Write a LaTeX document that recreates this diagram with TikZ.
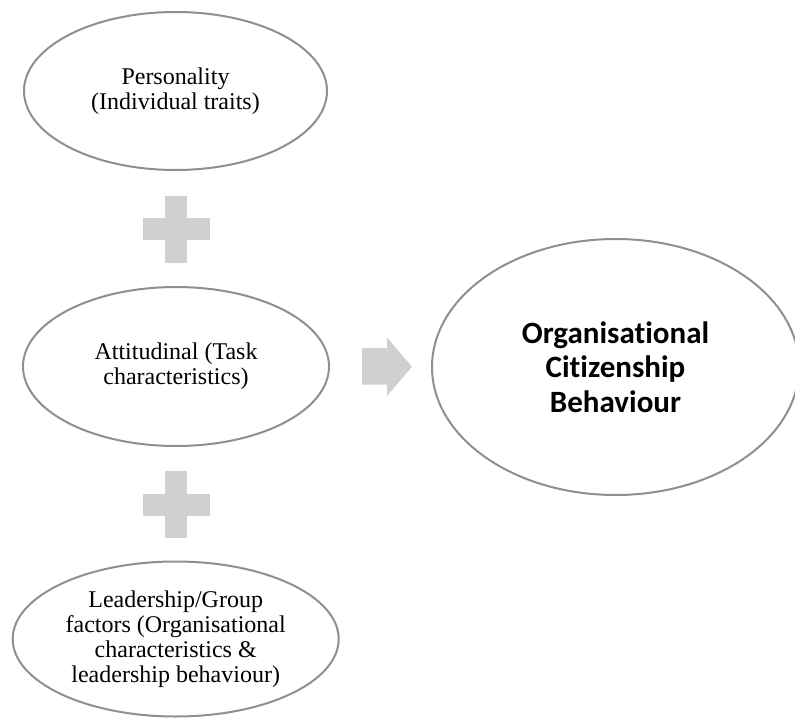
\documentclass[tikz,border=0pt]{standalone}
\usepackage{fontspec}
\setmainfont{Liberation Serif}
\newfontfamily\ocbfont[Ligatures={NoCommon,NoContextual}]{Carlito}
\usetikzlibrary{shapes.geometric}
\definecolor{ringgray}{HTML}{8F8F8F}
\definecolor{signgray}{HTML}{D0D0D0}

\begin{document}
\begin{tikzpicture}[x=1pt,y=-1pt,
	factor/.style={ellipse, draw=ringgray, line width=2pt, inner sep=0pt, align=center, font=\fontsize{24}{25}\selectfont},
	outcome/.style={factor, font=\ocbfont\bfseries\fontsize{31}{34.3}\selectfont},
	sign/.style={fill=signgray}]
				\useasboundingbox (0,0) rectangle (795,720);
				
				% Draw the three factors
				\node[factor, minimum width=303pt, minimum height=158pt] (personality) at (175.5,91) {Personality\\(Individual traits)};
				\node[factor, minimum width=306pt, minimum height=159pt] (attitudinal) at (176,366.5) {Attitudinal (Task\\characteristics)};
				\node[factor, minimum width=326pt, minimum height=155pt] (leadership) at (175.7,639) {Leadership/Group\\factors (Organisational\\characteristics \&\\leadership behaviour)};
				
				% Draw the outcome
				\node[outcome, minimum width=367pt, minimum height=256pt] (ocb) at (615.5,367) {Organisational\\Citizenship\\Behaviour};
				
				% Draw the plus signs
				\fill[sign] (165,195.5) rectangle (187,262.5);
				\fill[sign] (142.5,218) rectangle (209.5,240);
				\fill[sign] (165,471) rectangle (187,538);
				\fill[sign] (142.5,493.5) rectangle (209.5,515.5);
				
				% Draw the block arrow
				\fill[sign] (362,348) -- (387,348) -- (387,337.5) -- (412,366.7) -- (387,396) -- (387,384.5) -- (362,384.5) -- cycle;
			\end{tikzpicture}
\end{document}
